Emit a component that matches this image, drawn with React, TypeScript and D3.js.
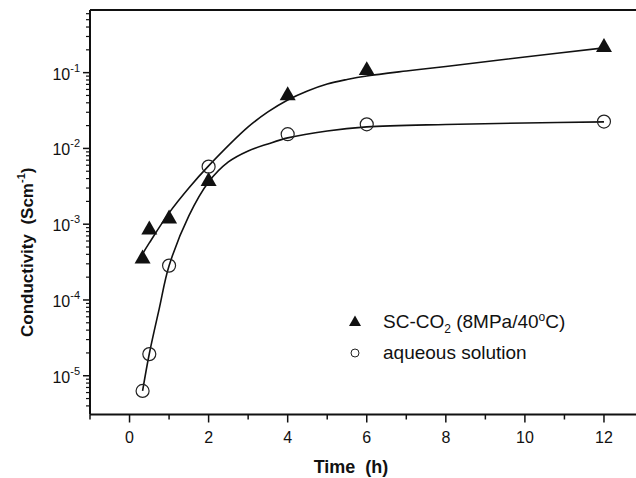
import React from "react";
import { scaleLinear, scaleLog, line, curveCatmullRom } from "d3";

// measured values (time in h, conductivity in S/cm)
const times = [0.33, 0.5, 1, 2, 4, 6, 12];
const scco2 = [3.56e-4, 8.6e-4, 1.2e-3, 3.76e-3, 0.0508, 0.109, 0.22];
const aqueous = [6.3e-6, 1.93e-5, 2.84e-4, 5.75e-3, 0.0154, 0.0208, 0.0226];

// fitted curves
const scFitT = [0.33, 0.5, 1, 1.5, 2, 3, 3.5, 4, 4.5, 5, 5.5, 6, 7, 8, 10, 12];
const scFit = [
  4.06e-4, 5.66e-4, 1.41e-3, 3.01e-3, 5.88e-3, 0.0192, 0.0303, 0.0436, 0.0574, 0.0709, 0.0813, 0.0905, 0.1053,
  0.1207, 0.161, 0.212,
];
const aqFitT = [0.33, 0.5, 0.75, 1, 1.5, 2, 2.5, 3, 3.5, 4, 5, 6, 8, 10, 12];
const aqFit = [
  6.32e-6, 1.95e-5, 7.64e-5, 2.82e-4, 1.29e-3, 3.61e-3, 6.64e-3, 9.27e-3, 0.01146, 0.01377, 0.01702, 0.01922,
  0.02073, 0.0217, 0.0224,
];

const xMajor = [0, 2, 4, 6, 8, 10, 12];
const xMinor = [-1, 1, 3, 5, 7, 9, 11];
const yDecades = [-5, -4, -3, -2, -1];

const width = 636;
const height = 478;
const left = 90;
const top = 10;
const bottom = 414.5;
const font = "'Liberation Sans', Arial, sans-serif";

const x = scaleLinear().domain([-1, 12.81]).range([left, width]);
const y = scaleLog().domain([3.08e-6, 0.671]).range([bottom, top]);

const yMinor: number[] = [];
for (let e = -6; e <= 0; e++) {
  for (let m = 2; m <= 9; m++) {
    const v = m * Math.pow(10, e);
    if (v >= 3.08e-6 && v <= 0.671) yMinor.push(v);
  }
}

const triPath = (s: number) => {
  const h = s * 0.866;
  return `M0,${-h * 0.62}L${s / 2},${h * 0.38}L${-s / 2},${h * 0.38}Z`;
};

export default function App() {
  const mk = (ts: number[], vs: number[]) =>
    line<number>()
      .x((d, i) => x(ts[i]))
      .y((d) => y(d))
      .curve(curveCatmullRom.alpha(0.5))(vs) || "";

  return (
    <div style={{ position: "absolute", left: 0, top: 0 }}>
      <svg width={width} height={height} style={{ display: "block", background: "#fff" }}>
        {/* fit curves */}
        <path d={mk(scFitT, scFit)} fill="none" stroke="#111" strokeWidth={1.6} />
        <path d={mk(aqFitT, aqFit)} fill="none" stroke="#111" strokeWidth={1.6} />

        {/* points */}
        {times.map((t, i) => (
          <path key={"t" + i} d={triPath(16)} transform={`translate(${x(t)},${y(scco2[i])})`} fill="#111" />
        ))}
        {times.map((t, i) => (
          <circle key={"c" + i} cx={x(t)} cy={y(aqueous[i])} r={6.5} fill="none" stroke="#222" strokeWidth={1.2} />
        ))}

        {/* frame */}
        <line x1={left} x2={width} y1={top} y2={top} stroke="#111" strokeWidth={2} />
        <line x1={left} x2={width} y1={bottom} y2={bottom} stroke="#111" strokeWidth={2} />
        <line x1={left} x2={left} y1={top} y2={bottom} stroke="#111" strokeWidth={2} />

        {/* x ticks */}
        {xMajor.map((t) => (
          <g key={"xm" + t}>
            <line x1={x(t)} x2={x(t)} y1={bottom} y2={bottom + 8} stroke="#111" strokeWidth={1.5} />
            <text x={x(t)} y={443} textAnchor="middle" fontFamily={font} fontSize={16} fill="#111">
              {t}
            </text>
          </g>
        ))}
        {xMinor.map((t) => (
          <line key={"xn" + t} x1={x(t)} x2={x(t)} y1={bottom} y2={bottom + 5} stroke="#111" strokeWidth={1.5} />
        ))}

        {/* y ticks */}
        {yDecades.map((e) => (
          <g key={"ym" + e}>
            <line x1={left - 7} x2={left} y1={y(Math.pow(10, e))} y2={y(Math.pow(10, e))} stroke="#111" strokeWidth={1.5} />
            <text x={80} y={y(Math.pow(10, e)) + 7} textAnchor="end" fontFamily={font} fontSize={16} fill="#111">
              10
              <tspan fontSize={11} dy={-8}>
                {"-" + Math.abs(e)}
              </tspan>
            </text>
          </g>
        ))}
        {yMinor.map((v, i) => (
          <line key={"yn" + i} x1={left - 4} x2={left} y1={y(v)} y2={y(v)} stroke="#111" strokeWidth={1.2} />
        ))}

        {/* axis titles */}
        <text x={351} y={473} textAnchor="middle" fontFamily={font} fontSize={18} fontWeight="bold" fill="#111">
          Time{"\u00a0\u00a0"}(h)
        </text>
        <text
          transform="translate(33,337) rotate(-90)"
          fontFamily={font}
          fontSize={17}
          fontWeight="bold"
          fill="#111"
        >
          Conductivity{"\u00a0\u00a0"}(Scm
          <tspan fontSize={11} dy={-8}>-1</tspan>
          <tspan dy={8}>)</tspan>
        </text>

        {/* legend */}
        <path d={triPath(12)} transform="translate(355,322)" fill="#111" />
        <text x={383} y={328} fontFamily={font} fontSize={19} fill="#111">
          SC-CO
          <tspan fontSize={12} dy={5}>2</tspan>
          <tspan dy={-5}> (8MPa/40</tspan>
          <tspan fontSize={12} dy={-7}>o</tspan>
          <tspan dy={7}>C)</tspan>
        </text>
        <circle cx={355} cy={353} r={4} fill="none" stroke="#222" strokeWidth={1} />
        <text x={383} y={359} fontFamily={font} fontSize={19} fill="#111">
          aqueous solution
        </text>
      </svg>
    </div>
  );
}
